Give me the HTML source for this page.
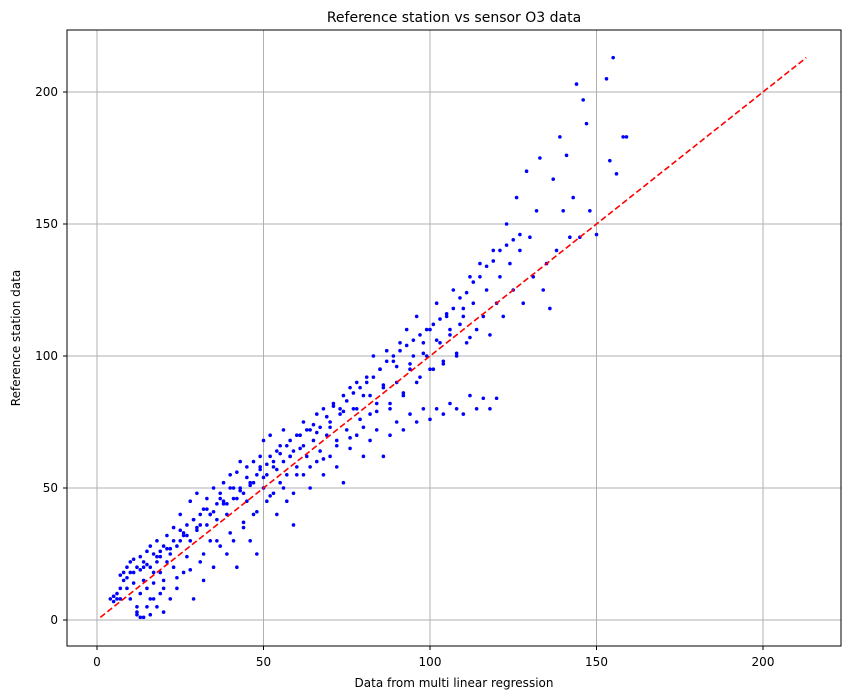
<!DOCTYPE html>
<html><head><meta charset="utf-8"><style>
body{margin:0;background:#fff;}
svg{display:block;font-family:"DejaVu Sans","Liberation Sans",sans-serif;}
</style></head><body>
<svg id="chart" width="850" height="699">
<text x="454" y="22" text-anchor="middle" font-size="14">Reference station vs sensor O3 data</text>
<text x="454" y="687" text-anchor="middle" font-size="12">Data from multi linear regression</text>
<text transform="translate(20,338) rotate(-90)" text-anchor="middle" font-size="12">Reference station data</text>
<g id="grid"></g><g id="ticks"></g><g id="pts"></g><g id="fit"></g>
<rect x="67" y="30" width="774" height="616" fill="none" stroke="#000" stroke-width="1"/>
</svg>
<script>
const xTicks=[0,50,100,150,200];
const yTicks=[0,50,100,150,200];
const xs=[4,5,5,6,6,7,7,8,8,9,9,10,10,11,11,12,12,12,13,13,13,14,14,14,15,15,15,16,16,16,17,17,17,18,18,18,19,19,19,20,20,20,21,21,22,22,23,23,24,24,25,25,26,26,27,27,28,28,29,29,30,30,31,31,32,32,33,33,34,34,35,35,36,36,37,37,38,38,39,39,40,40,41,41,42,42,43,43,44,44,45,45,46,46,47,47,48,48,49,49,50,50,51,51,52,52,53,53,54,54,55,55,56,56,57,57,58,58,59,59,60,60,61,62,62,63,64,64,65,66,66,67,68,68,69,70,70,71,72,72,73,74,74,75,76,76,77,78,78,79,80,80,81,82,82,83,84,84,85,86,86,87,88,88,89,90,90,91,92,92,93,94,94,95,96,96,97,98,98,99,100,100,101,102,102,103,104,104,105,106,106,107,108,108,109,110,110,111,112,112,113,114,114,115,116,116,117,118,118,119,120,120,121,122,123,124,125,126,127,128,129,130,131,132,133,134,135,136,137,138,139,140,141,142,143,144,145,146,147,148,150,153,154,155,156,158,159,
10,14,18,22,26,30,34,38,42,46,50,54,58,62,66,70,74,78,82,86,90,94,98,102,106,110,12,16,20,24,28,32,36,40,44,48,52,56,60,64,68,72,76,80,84,88,92,96,100,104,108,112,
5,7,9,11,13,15,17,19,21,23,25,27,29,31,33,35,37,39,41,43,45,47,49,51,53,55,57,59,61,63,65,67,69,71,73,75,77,79,81,83,85,87,89,91,93,95,97,99,101,103,105,107,109,111,113,115,117,119,121,123,125,127];
const ys=[8,9,7,10,8,8,17,15,18,12,20,22,8,23,18,20,5,2,1,10,24,22,15,1,12,26,5,20,28,2,14,25,8,22,30,5,18,26,10,28,15,3,22,32,8,25,20,35,28,12,30,40,33,18,36,24,45,30,38,8,34,48,40,22,42,15,36,46,40,30,50,20,44,38,48,28,45,52,40,25,50,55,46,30,56,20,50,60,48,35,58,45,52,30,60,40,55,25,58,62,50,68,55,45,62,70,58,48,64,40,66,52,60,72,55,45,62,68,48,36,70,58,65,75,55,62,50,72,68,78,60,64,80,55,70,75,62,82,68,58,78,85,52,72,88,65,80,70,90,76,85,62,92,78,68,100,82,72,95,88,62,102,80,70,98,90,75,105,85,72,110,95,78,100,115,75,92,105,80,100,110,76,95,120,80,105,98,78,115,108,82,125,100,80,112,118,78,105,130,85,120,110,80,135,115,84,125,108,80,140,120,84,130,115,150,135,125,160,140,120,170,145,130,155,175,125,135,118,167,140,183,155,176,145,160,203,145,197,188,155,146,205,174,213,169,183,183,
18,20,24,27,32,35,40,44,46,51,54,57,62,66,71,73,79,80,85,89,96,97,101,106,110,115,3,8,12,16,19,25,30,33,37,41,47,50,55,58,61,66,69,73,79,82,86,90,95,97,101,107,
9,12,16,14,19,21,18,24,27,30,34,32,38,36,42,41,46,44,50,49,54,52,57,59,60,63,66,64,70,72,74,73,77,81,80,83,86,88,90,92,95,98,100,102,104,106,108,110,112,114,116,118,122,124,128,130,134,136,140,142,144,146];
const X=v=>97+(v*166.5/50), Y=v=>620-(v*132/50);
const ns="http://www.w3.org/2000/svg";
const g=document.getElementById('grid'),t=document.getElementById('ticks'),p=document.getElementById('pts'),f=document.getElementById('fit');
function mk(tag,a,par){const e=document.createElementNS(ns,tag);for(const k in a)e.setAttribute(k,a[k]);par.appendChild(e);return e;}
xTicks.forEach(v=>{
 const l=mk('line',{x1:X(v),x2:X(v),y1:30,y2:646,stroke:'#b0b0b0','stroke-width':1},g);
 
 
 mk('line',{x1:X(v),x2:X(v),y1:646,y2:650,stroke:'#000'},t);
 const tx=mk('text',{x:X(v),y:666,'text-anchor':'middle','font-size':12},t);tx.textContent=v;
 
 
});
yTicks.forEach(v=>{
 const l=mk('line',{x1:67,x2:841,y1:Y(v),y2:Y(v),stroke:'#b0b0b0','stroke-width':1},g);
 
 
 mk('line',{x1:63,x2:67,y1:Y(v),y2:Y(v),stroke:'#000'},t);
 const tx=mk('text',{x:58,y:Y(v)+4,'text-anchor':'end','font-size':12},t);tx.textContent=v;
 
 
});
xs.forEach((v,i)=>{
 const c=mk('circle',{cx:X(v),cy:Y(ys[i]),r:1.8,fill:'#0000ff'},p);
 
 
});
const fl=mk('line',{x1:X(1),y1:Y(1),x2:X(213),y2:Y(213),stroke:'#ff0000','stroke-width':1.6,'stroke-dasharray':'6,3'},f);


</script>
</body></html>
